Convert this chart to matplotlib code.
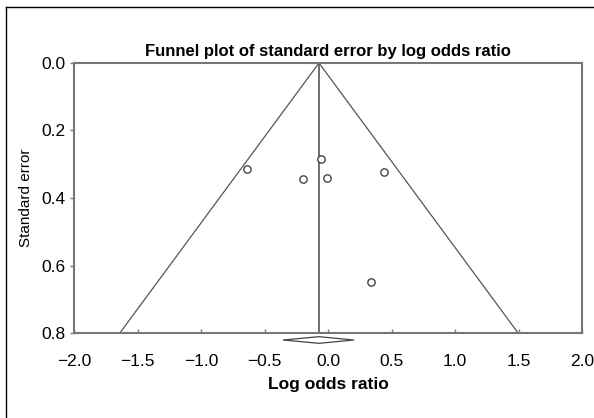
import matplotlib.pyplot as plt
from matplotlib.patches import Polygon
from matplotlib.lines import Line2D

# study points
log_or = [-0.64, -0.20, -0.055, -0.005, 0.44, 0.335]
std_err = [0.313, 0.345, 0.285, 0.341, 0.322, 0.648]

# pooled estimate and its CI (diamond)
pooled = -0.071
ci_low, ci_high = -0.354, 0.205

x_ticks = [-2.0, -1.5, -1.0, -0.5, 0.0, 0.5, 1.0, 1.5, 2.0]
y_ticks = [0.0, 0.2, 0.4, 0.6, 0.8]

plt.rcParams['font.family'] = ['Liberation Sans Narrow', 'Liberation Sans', 'DejaVu Sans']

fig = plt.figure(figsize=(5.94, 4.18), dpi=100)
ax = fig.add_axes([0.1246, 0.2033, 0.8552, 0.646])

grey = '#555555'
# funnel (95% limits)
se_max = 0.8
ax.plot([pooled - 1.96 * se_max, pooled, pooled + 1.96 * se_max], [se_max, 0, se_max],
        color=grey, lw=0.9)
ax.plot([pooled, pooled], [0, se_max], color=grey, lw=1.2)

ax.scatter(log_or, std_err, s=28, facecolors='white', edgecolors='#444444', linewidths=1.0, zorder=3)

# diamond under the axis
dy = 0.0207
hh = 0.0098
dia = Polygon([[ci_low, se_max + dy], [pooled, se_max + dy - hh],
               [ci_high, se_max + dy], [pooled, se_max + dy + hh]],
              closed=True, facecolor='white', edgecolor='#444444', lw=0.9, clip_on=False)
ax.add_patch(dia)

ax.set_xlim(-2.0, 2.0)
ax.set_ylim(0.8, 0.0)
ax.set_xticks(x_ticks)
ax.set_yticks(y_ticks)
ax.set_xticklabels(['\u22122.0', '\u22121.5', '\u22121.0', '\u22120.5', '0.0', '0.5', '1.0', '1.5', '2.0'])
ax.set_yticklabels(['%.1f' % v for v in y_ticks])
ax.tick_params(axis='x', direction='in', length=3, width=1, color='#777777', labelsize=12.5, pad=15)
ax.tick_params(axis='y', direction='out', length=3, width=1, color='#777777', labelsize=12.5, pad=3)
for s in ax.spines.values():
    s.set_color('#777777')
    s.set_linewidth(1.5)

ax.set_title('Funnel plot of standard error by log odds ratio', fontsize=12, fontweight='bold', pad=5)
ax.set_xlabel('Log odds ratio', fontsize=12.5, fontweight='bold', labelpad=6)
ax.set_ylabel('Standard error', fontsize=11, labelpad=6)

# outer frame (top and left edges visible)
fig.add_artist(Line2D([6 / 594, 6 / 594], [0, 1 - 7 / 418], transform=fig.transFigure, color='black', lw=1))
fig.add_artist(Line2D([6 / 594, 1], [1 - 7 / 418, 1 - 7 / 418], transform=fig.transFigure, color='black', lw=1))

fig.savefig('out.png', dpi=100)
